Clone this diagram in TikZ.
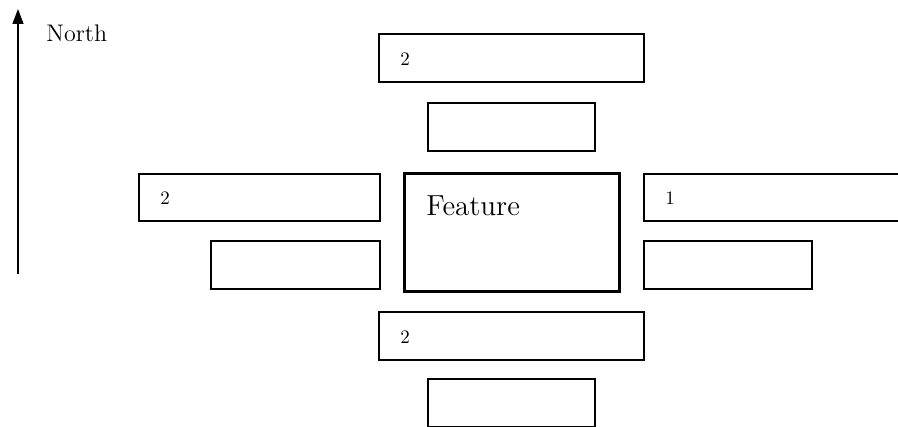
\documentclass[tikz,border=0pt]{standalone}
\usepackage{fontspec}
\usetikzlibrary{calc,arrows.meta}
\begin{document}
\begin{tikzpicture}[x=0.5pt,y=-0.5pt,
  box/.style={draw,line width=0.8pt,inner sep=0pt,anchor=north west,minimum height=24pt},
  featbox/.style={draw,line width=1.7pt,inner sep=0pt,anchor=north west},
  digit/.style={inner sep=0pt,anchor=west,font=\fontsize{9.5}{11}\selectfont},
  bigtext/.style={inner sep=0pt,anchor=base west,font=\fontsize{14.5}{17}\selectfont},
  northtext/.style={inner sep=0pt,anchor=base west,font=\fontsize{12}{14}\selectfont}]
\useasboundingbox (0,0) rectangle (898,427);
\clip (0,0) rectangle (898,427);
% boxes
\node[box,minimum width=132.5pt] (t1) at (378,33) {};
\node[box,minimum width=83.5pt] (t2) at (427,102) {};
\node[featbox,minimum width=107.5pt,minimum height=59pt] (feat) at (403,172) {};
\node[box,minimum width=120.5pt,minimum height=23.5pt] (l1) at (138,173) {};
\node[box,minimum width=84.5pt] (l2) at (210,240) {};
\node[box,minimum width=135pt,minimum height=23.5pt] (r1) at (643,173) {};
\node[box,minimum width=84pt] (r2) at (643,240) {};
\node[box,minimum width=132.5pt] (b1) at (378,311) {};
\node[box,minimum width=83.5pt] (b2) at (427,378) {};
% labels
\node[digit] (t1lab) at ($(t1.west)+(22,1)$) {2};
\node[digit] (l1lab) at ($(l1.west)+(22,1)$) {2};
\node[digit] (r1lab) at ($(r1.west)+(22,1)$) {1};
\node[digit] (b1lab) at ($(b1.west)+(22,1)$) {2};
\node[bigtext] (featlab) at ($(feat.north west)+(23,43)$) {Feature};
% north arrow
\coordinate (a0) at (18,274);
\coordinate (a1) at (18,9);
\draw[line width=0.8pt,-{Triangle[length=7.5pt,width=5.5pt]}] (a0) -- (a1);
\node[northtext] (north) at (46,42) {North};
\end{tikzpicture}
\end{document}
